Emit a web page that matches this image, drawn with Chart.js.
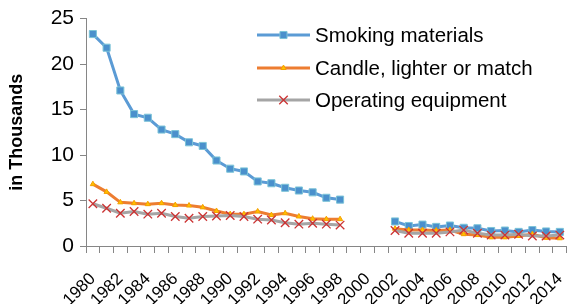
<!DOCTYPE html>
<html>
<head>
<meta charset="utf-8">
<script src="https://cdn.jsdelivr.net/npm/chart.js@4/dist/chart.umd.min.js"></script>
<style>
  html, body { margin: 0; padding: 0; background: #fff; }
  #wrap { width: 574px; height: 304px; position: relative; }
</style>
</head>
<body>
<div id="wrap"><canvas id="fireChart" width="574" height="304"></canvas></div>
<script>
// years on the x axis (1999-2001 have no data)
const years = ['1980','1981','1982','1983','1984','1985','1986','1987','1988','1989',
  '1990','1991','1992','1993','1994','1995','1996','1997','1998','1999',
  '2000','2001','2002','2003','2004','2005','2006','2007','2008','2009',
  '2010','2011','2012','2013','2014'];

const smokingMaterials = [23.3, 21.8, 17.1, 14.5, 14.1, 12.8, 12.3, 11.4, 11.0, 9.4,
  8.5, 8.2, 7.1, 6.9, 6.4, 6.1, 5.9, 5.3, 5.1, null,
  null, null, 2.7, 2.2, 2.35, 2.1, 2.25, 2.0, 1.95, 1.65,
  1.7, 1.55, 1.75, 1.6, 1.55];

const candleLighterMatch = [6.8, 5.95, 4.8, 4.7, 4.6, 4.7, 4.5, 4.45, 4.25, 3.85,
  3.5, 3.5, 3.8, 3.4, 3.6, 3.25, 3.0, 2.95, 2.95, null,
  null, null, 1.9, 1.75, 1.75, 1.7, 1.75, 1.3, 1.2, 0.95,
  0.95, 1.1, 1.3, 0.9, 0.85];

const operatingEquipment = [4.65, 4.15, 3.6, 3.8, 3.5, 3.6, 3.25, 3.05, 3.25, 3.3,
  3.35, 3.25, 2.95, 2.85, 2.55, 2.4, 2.5, 2.4, 2.3, null,
  null, null, 1.7, 1.4, 1.4, 1.4, 1.55, 1.75, 1.4, 1.2,
  1.2, 1.3, 1.1, 1.1, 1.2];

const yTicks = [0, 5, 10, 15, 20, 25];

const fontFamily = "'Liberation Sans', Arial, sans-serif";
const axisColor = '#868686';

// legend drawn inside the plot, top right
const insideLegend = {
    id: 'insideLegend',
    afterDraw(chart) {
        const ctx = chart.ctx;
        const rows = [35, 68, 100];
        ctx.save();
        chart.data.datasets.forEach((ds, i) => {
            const y = rows[i];
            ctx.strokeStyle = ds.borderColor;
            ctx.lineWidth = 3;
            ctx.beginPath();
            ctx.moveTo(257, y);
            ctx.lineTo(310, y);
            ctx.stroke();
            ctx.fillStyle = ds.pointBackgroundColor;
            ctx.strokeStyle = ds.pointBorderColor;
            ctx.lineWidth = ds.pointBorderWidth;
            Chart.helpers.drawPoint(ctx, {
                pointStyle: ds.pointStyle,
                radius: ds.pointRadius,
                borderWidth: ds.pointBorderWidth
            }, 283.5, y);
            ctx.fillStyle = '#000';
            ctx.font = '20.5px ' + fontFamily;
            ctx.textBaseline = 'middle';
            ctx.textAlign = 'left';
            ctx.fillText(ds.label, 315, y + 1);
        });
        ctx.restore();
    }
};

const ctx = document.getElementById('fireChart').getContext('2d');
new Chart(ctx, {
    type: 'line',
    data: {
        labels: years,
        datasets: [{
            label: 'Smoking materials',
            data: smokingMaterials,
            borderColor: '#5B9BD5',
            borderWidth: 3,
            pointStyle: 'rect',
            pointRadius: 5,
            pointBorderWidth: 1,
            pointBackgroundColor: '#4A90CC',
            pointBorderColor: '#7CC4D8',
            order: 2
        }, {
            label: 'Candle, lighter or match',
            data: candleLighterMatch,
            borderColor: '#ED7D31',
            borderWidth: 3,
            pointStyle: 'triangle',
            pointRadius: 3,
            pointBorderWidth: 1,
            pointBackgroundColor: '#FFC000',
            pointBorderColor: '#F5A000',
            order: 1
        }, {
            label: 'Operating equipment',
            data: operatingEquipment,
            borderColor: '#A5A5A5',
            borderWidth: 3,
            pointStyle: 'crossRot',
            pointRadius: 6,
            pointBorderWidth: 1.3,
            pointBackgroundColor: '#CC3333',
            pointBorderColor: '#CC3333',
            order: 0
        }]
    },
    options: {
        responsive: false,
        animation: false,
        spanGaps: false,
        layout: { padding: { top: 14, right: 1, left: 0, bottom: 0 } },
        plugins: {
            legend: { display: false },
            tooltip: { enabled: false }
        },
        scales: {
            x: {
                offset: true,
                afterFit: scale => {
                    scale.height = 58;
                    scale.paddingRight = 0;
                    scale.paddingLeft = 0;
                },
                grid: { offset: true, drawOnChartArea: false, drawTicks: true, tickLength: 7, color: axisColor },
                border: { color: axisColor, width: 1 },
                ticks: {
                    autoSkip: false,
                    minRotation: 45,
                    maxRotation: 45,
                    color: '#000',
                    font: { family: fontFamily, size: 17 },
                    padding: 16,
                    callback: function (value, index) {
                        return index % 2 === 0 ? years[index] : '';
                    }
                }
            },
            y: {
                min: 0,
                max: 25,
                afterBuildTicks: scale => { scale.ticks = yTicks.map(v => ({ value: v })); },
                afterFit: scale => { scale.width = 86; },
                grid: { drawOnChartArea: false, drawTicks: true, tickLength: 6, color: axisColor },
                border: { color: axisColor, width: 1 },
                ticks: {
                    color: '#000',
                    font: { family: fontFamily, size: 21 },
                    padding: 6
                },
                title: {
                    display: true,
                    text: 'in Thousands',
                    color: '#000',
                    font: { family: fontFamily, size: 18, weight: 'bold' },
                    padding: { top: 6, bottom: 2 }
                }
            }
        }
    },
    plugins: [insideLegend]
});
</script>
</body>
</html>
